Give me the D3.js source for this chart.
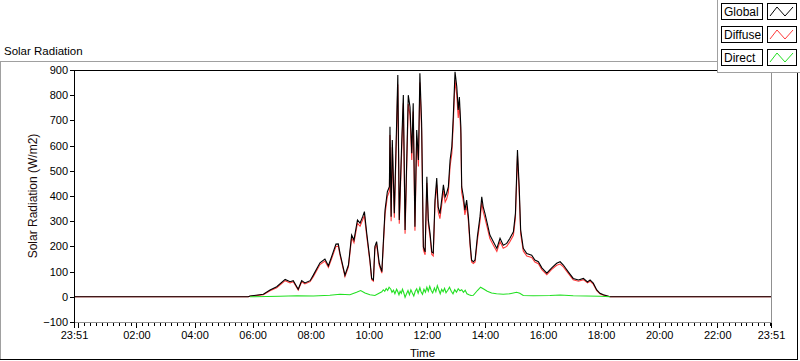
<!DOCTYPE html>
<html>
<head>
<meta charset="utf-8">
<script src="https://cdn.jsdelivr.net/npm/d3@7"></script>
<style>
body { margin: 0; background: #fff; }
svg { display: block; font-family: "Liberation Sans", Arial, sans-serif; }
</style>
</head>
<body>
<svg></svg>
<script>
const width = 800;
const height = 361;

// hours since midnight (-0.15 = 23:51 the day before)
const time = [-0.15, 5.85, 5.91, 6.37, 6.60, 6.83, 7.12, 7.29, 7.40, 7.57,
	7.69, 7.80, 7.98, 8.09, 8.32, 8.49, 8.61, 8.72, 8.87, 8.95,
	9.01, 9.18, 9.30, 9.41, 9.49, 9.61, 9.70, 9.79, 9.85, 9.93,
	10.04, 10.10, 10.16, 10.21, 10.27, 10.36, 10.45, 10.50, 10.56, 10.64,
	10.71, 10.73, 10.77, 10.81, 10.88, 10.93, 11.00, 11.05, 11.13, 11.19,
	11.25, 11.36, 11.42, 11.48, 11.53, 11.59, 11.65, 11.71, 11.76, 11.82,
	11.88, 11.94, 12.00, 12.05, 12.11, 12.17, 12.22, 12.28, 12.34, 12.39,
	12.45, 12.51, 12.57, 12.63, 12.68, 12.74, 12.80, 12.86, 12.91, 12.97,
	13.03, 13.08, 13.12, 13.17, 13.20, 13.26, 13.31, 13.37, 13.43, 13.49,
	13.54, 13.60, 13.66, 13.74, 13.83, 13.89, 13.94, 14.00, 14.08, 14.17,
	14.29, 14.41, 14.52, 14.63, 14.75, 14.86, 14.98, 15.05, 15.12, 15.18,
	15.23, 15.32, 15.44, 15.61, 15.72, 15.84, 15.96, 16.13, 16.30, 16.47,
	16.59, 16.70, 16.87, 17.04, 17.22, 17.39, 17.53, 17.62, 17.73, 17.85,
	17.96, 18.08, 18.31, 23.85];

const globalRad = [0, 0, 3, 10, 27, 40, 69, 60, 64, 30,
	64, 55, 64, 86, 135, 150, 123, 159, 209, 210,
	172, 86, 126, 245, 225, 305, 292, 318, 338, 252,
	146, 73, 67, 199, 219, 133, 100, 212, 344, 417,
	437, 675, 318, 622, 332, 556, 880, 305, 596, 801,
	265, 800, 753, 570, 768, 278, 662, 543, 887, 689,
	198, 178, 476, 305, 252, 178, 174, 384, 471, 357,
	330, 384, 444, 397, 410, 436, 543, 596, 715, 893,
	834, 741, 793, 675, 436, 397, 344, 384, 318, 212,
	146, 139, 146, 239, 318, 397, 357, 331, 291, 245,
	218, 192, 232, 205, 212, 232, 258, 331, 582, 436,
	265, 192, 172, 165, 146, 139, 115, 94, 115, 133,
	139, 126, 99, 73, 67, 73, 59, 67, 54, 27,
	14, 8, 0, 0];

const diffuseRad = [0, 0, 2, 8, 24, 36, 64, 55, 60, 27,
	60, 51, 60, 80, 128, 142, 117, 151, 200, 201,
	165, 80, 119, 234, 215, 292, 280, 306, 322, 240,
	138, 68, 62, 189, 208, 125, 94, 200, 327, 398,
	418, 642, 300, 593, 314, 530, 842, 290, 568, 768,
	250, 765, 720, 543, 735, 262, 631, 517, 850, 658,
	186, 167, 452, 289, 238, 168, 162, 365, 446, 338,
	310, 363, 422, 376, 388, 413, 518, 569, 686, 860,
	800, 710, 760, 645, 414, 376, 325, 363, 300, 200,
	138, 132, 138, 224, 300, 376, 338, 312, 275, 231,
	205, 180, 219, 193, 200, 219, 244, 313, 560, 414,
	250, 182, 162, 156, 138, 131, 108, 88, 109, 125,
	130, 119, 93, 68, 62, 68, 55, 62, 50, 24,
	12, 6, 0, 0];

const directTime = [5.91, 6.93, 7.53, 8.09, 8.66, 9.01, 9.35, 9.58, 9.72, 9.87,
	10.04, 10.21, 10.45, 10.50, 10.55, 10.60, 10.65, 10.70, 10.76, 10.80,
	10.85, 10.90, 10.96, 11.00, 11.04, 11.08, 11.12, 11.16, 11.20, 11.25,
	11.30, 11.35, 11.40, 11.45, 11.50, 11.55, 11.60, 11.65, 11.70, 11.76,
	11.80, 11.85, 11.90, 11.95, 12.00, 12.05, 12.10, 12.15, 12.20, 12.26,
	12.31, 12.36, 12.41, 12.46, 12.51, 12.56, 12.61, 12.66, 12.72, 12.78,
	12.84, 12.90, 12.96, 13.02, 13.08, 13.14, 13.20, 13.26, 13.32, 13.38,
	13.45, 13.52, 13.60, 13.74, 13.85, 13.97, 14.08, 14.23, 14.40, 14.63,
	14.86, 15.09, 15.20, 15.32, 15.66, 16.24, 16.59, 17.04, 17.50, 17.96,
	18.31];

const directRad = [0, 2, 4, 3, 6, 10, 8, 18, 25, 15,
	8, 5, 20, 28, 22, 33, 25, 38, 30, 18,
	26, 12, 30, 20, 8, 22, 14, 30, 18, -2,
	12, 25, 8, 28, 15, 3, 22, 32, 14, 36,
	20, 10, 30, 18, 38, 22, 42, 25, 15, 35,
	20, 44, 28, 12, 30, 20, 34, 16, 26, 38,
	22, 12, 28, 18, 32, 24, 28, 18, 26, 12,
	8, 5, 6, 25, 38, 30, 22, 15, 12, 10,
	12, 18, 14, 5, 4, 5, 7, 4, 3, 2,
	0];

const yTicks = [-100, 0, 100, 200, 300, 400, 500, 600, 700, 800, 900];
const xMajor = [-0.15, 0, 2, 4, 6, 8, 10, 12, 14, 16, 18, 20, 22, 23.85];
const xLabels = ['23:51', '', '02:00', '04:00', '06:00', '08:00', '10:00', '12:00',
	'14:00', '16:00', '18:00', '20:00', '22:00', '23:51'];

const seriesNames = ['Global', 'Diffuse', 'Direct'];
const seriesColors = ['#000000', '#ff3a3a', '#22e022'];

const svg = d3.select('svg')
	.attr('width', width)
	.attr('height', height);

const plot = { left: 74, right: 771, top: 70, bottom: 322 };

const x = d3.scaleLinear()
	.domain([-0.15, 23.85])
	.range([plot.left, plot.right]);

const y = d3.scaleLinear()
	.domain([-100, 900])
	.range([plot.bottom, plot.top]);

// outer panel
const frame = svg.append('g').attr('shape-rendering', 'crispEdges');
frame.append('line').attr('x1', 0).attr('x2', width).attr('y1', 61.5).attr('y2', 61.5).attr('stroke', '#a0a0a0');
frame.append('line').attr('x1', 0.5).attr('x2', 0.5).attr('y1', 61).attr('y2', 360).attr('stroke', '#a0a0a0');
frame.append('line').attr('x1', 0).attr('x2', 798).attr('y1', 359.5).attr('y2', 359.5).attr('stroke', '#000');
frame.append('line').attr('x1', 797.5).attr('x2', 797.5).attr('y1', 62).attr('y2', 360).attr('stroke', '#000');

svg.append('text')
	.attr('x', 4)
	.attr('y', 55)
	.attr('font-size', 11.5)
	.text('Solar Radiation');

// plot background
svg.append('rect')
	.attr('x', plot.left)
	.attr('y', plot.top)
	.attr('width', plot.right - plot.left)
	.attr('height', plot.bottom - plot.top)
	.attr('fill', '#fff');

svg.append('clipPath').attr('id', 'clip')
	.append('rect')
	.attr('x', plot.left)
	.attr('y', plot.top)
	.attr('width', plot.right - plot.left)
	.attr('height', plot.bottom - plot.top);

const lineGen = d3.line()
	.x(d => x(d[0]))
	.y(d => y(d[1]));

const globalPts = d3.zip(time, globalRad);
const diffusePts = d3.zip(time, diffuseRad);
const directPts = d3.zip(directTime, directRad);

const lines = svg.append('g').attr('clip-path', 'url(#clip)');
[[diffusePts, seriesColors[1]], [globalPts, seriesColors[0]], [directPts, seriesColors[2]]]
	.forEach(([pts, color]) => {
		lines.append('path')
			.datum(pts)
			.attr('d', lineGen)
			.attr('fill', 'none')
			.attr('stroke', color)
			.attr('stroke-width', 1.1);
	});

// plot frame
frame.append('line').attr('x1', plot.left).attr('x2', plot.right + 1).attr('y1', plot.top + 0.5).attr('y2', plot.top + 0.5).attr('stroke', '#000');
frame.append('line').attr('x1', plot.right + 0.5).attr('x2', plot.right + 0.5).attr('y1', plot.top).attr('y2', plot.bottom + 1).attr('stroke', '#909090');
frame.append('line').attr('x1', plot.left).attr('x2', plot.right + 1).attr('y1', plot.bottom + 0.5).attr('y2', plot.bottom + 0.5).attr('stroke', '#909090');
frame.append('line').attr('x1', plot.left + 0.5).attr('x2', plot.left + 0.5).attr('y1', plot.top).attr('y2', plot.bottom + 1).attr('stroke', '#000');
svg.node().appendChild(frame.node());

// axes
const yAxis = d3.axisLeft(y)
	.tickValues(yTicks)
	.tickSize(4)
	.tickPadding(2);

svg.append('g')
	.attr('transform', `translate(${plot.left},0)`)
	.attr('shape-rendering', 'crispEdges')
	.call(yAxis)
	.call(g => g.select('.domain').remove())
	.call(g => g.selectAll('text').attr('font-size', 11).attr('font-family', null).attr('fill', '#000'))
	.call(g => g.selectAll('line').attr('stroke', '#000'));

const minorTicks = d3.range(0, 120).map(i => i * 0.2).filter(h => Math.abs(h % 2) > 0.01 && Math.abs(h % 2 - 2) > 0.01);

svg.append('g')
	.attr('transform', `translate(0,${plot.bottom + 1})`)
	.attr('shape-rendering', 'crispEdges')
	.call(d3.axisBottom(x).tickValues(minorTicks).tickSize(3).tickFormat(''))
	.call(g => g.select('.domain').remove())
	.call(g => g.selectAll('line').attr('stroke', '#000'));

svg.append('g')
	.attr('transform', `translate(0,${plot.bottom + 1})`)
	.attr('shape-rendering', 'crispEdges')
	.call(d3.axisBottom(x).tickValues(xMajor).tickSize(5).tickPadding(3)
		.tickFormat((d, i) => xLabels[i]))
	.call(g => g.select('.domain').remove())
	.call(g => g.selectAll('text').attr('font-size', 11).attr('font-family', null).attr('fill', '#000'))
	.call(g => g.selectAll('line').attr('stroke', '#000'));

svg.append('text')
	.attr('x', (plot.left + plot.right) / 2)
	.attr('y', 357)
	.attr('text-anchor', 'middle')
	.attr('font-size', 11.5)
	.text('Time');

svg.append('text')
	.attr('transform', `translate(37,${(plot.top + plot.bottom) / 2}) rotate(-90)`)
	.attr('text-anchor', 'middle')
	.attr('font-size', 12)
	.attr('fill', '#1a0a0a')
	.text('Solar Radiation (W/m2)');

// legend
const legend = svg.append('g').attr('shape-rendering', 'crispEdges');
legend.append('rect')
	.attr('x', 717.5).attr('y', -1)
	.attr('width', 90).attr('height', 73.5)
	.attr('fill', '#fff')
	.attr('stroke', '#a0a0a0');

const rowY = [3, 26, 49];
seriesNames.forEach((name, i) => {
	const y0 = rowY[i];
	legend.append('rect')
		.attr('x', 721.5).attr('y', y0 + 0.5)
		.attr('width', 41).attr('height', 16)
		.attr('fill', '#fff').attr('stroke', '#000');
	legend.append('text')
		.attr('x', 724).attr('y', y0 + 13)
		.attr('font-size', 12)
		.text(name);
	legend.append('rect')
		.attr('x', 767.5).attr('y', y0 + 0.5)
		.attr('width', 29).attr('height', 16)
		.attr('fill', '#fff').attr('stroke', '#000');
	legend.append('polyline')
		.attr('points', [[770, y0 + 13], [777, y0 + 4], [785, y0 + 13], [793, y0 + 4]].join(' '))
		.attr('fill', 'none')
		.attr('stroke', seriesColors[i])
		.attr('shape-rendering', 'auto');
});
</script>
</body>
</html>
